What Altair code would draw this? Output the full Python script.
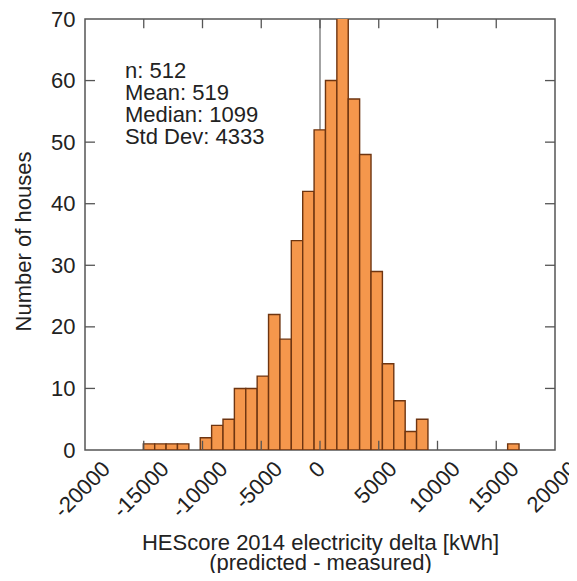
import altair as alt
import pandas as pd

# Histogram data
BIN_START = -15038
BIN_WIDTH = 969
COUNTS = [1, 1, 1, 1, 0, 2, 4, 5, 10, 10, 12, 22, 18, 34, 42, 52, 60, 72, 57,
          48, 29, 14, 8, 3, 5, 0, 0, 0, 0, 0, 0, 0, 1]
X_TICKS = [-20000, -15000, -10000, -5000, 0, 5000, 10000, 15000, 20000]
Y_TICKS = [0, 10, 20, 30, 40, 50, 60, 70]
STATS = ["n: 512", "Mean: 519", "Median: 1099", "Std Dev: 4333"]

FONT = "Liberation Sans"
FILL = "#F5974C"
EDGE = "#6E3511"
FRAME = "#555555"
TXT = "#222222"

rows = []
for i, c in enumerate(COUNTS):
    if c > 0:
        lo = BIN_START + i * BIN_WIDTH
        rows.append({"lo": lo, "hi": lo + BIN_WIDTH, "count": c})
bars_df = pd.DataFrame(rows)

xscale = alt.Scale(domain=[X_TICKS[0], X_TICKS[-1]], nice=False, zero=False)
yscale = alt.Scale(domain=[Y_TICKS[0], Y_TICKS[-1]], nice=False, zero=False)

# rotated labels are centred on their tick (shift depends on label length)
label_offset = {
    "condition": [
        {"test": "datum.value < -5000", "value": 21},
        {"test": "datum.value == -5000", "value": 17},
        {"test": "datum.value == 0", "value": 1},
        {"test": "datum.value == 5000", "value": 14},
    ],
    "value": 18.5,
}

xaxis = alt.Axis(
    values=X_TICKS,
    labelExpr="datum.value < 0 ? '-' + format(-datum.value, 'd') : format(datum.value, 'd')",
    labelAngle=315, labelAlign="right", labelBaseline="middle",
    labelPadding=15, labelOffset=label_offset, tickSize=0,
    domain=False, grid=False, labelFont=FONT, labelFontSize=22,
    labelColor=TXT, labelOverlap=False, labelBound=False, labelFlush=False,
    title=["HEScore 2014 electricity delta [kWh]", "(predicted - measured)"],
    titleFont=FONT, titleFontSize=22, titleFontWeight="normal",
    titleColor=TXT, titleX=235, titleY=99, titleBaseline="alphabetic",
    titleLineHeight=20, titleAnchor="middle", titleAlign="center",
)
yaxis = alt.Axis(
    values=Y_TICKS, tickSize=0, domain=False, grid=False, labelPadding=10,
    labelFont=FONT, labelFontSize=22, labelColor=TXT,
    labelOverlap=False, labelFlush=False,
    title="Number of houses", titleFont=FONT, titleFontSize=22,
    titleFontWeight="normal", titleColor=TXT, titleX=-62, titleY=222,
    titleBaseline="middle", titleAlign="center",
)

zero_line = alt.Chart(pd.DataFrame({"v": [0]})).mark_rule(
    color="#8c8c8c", strokeWidth=1.6
).encode(
    x=alt.X("v:Q", scale=xscale, axis=xaxis),
)

bars = alt.Chart(bars_df).mark_rect(
    fill=FILL, stroke=EDGE, strokeWidth=1.4, clip=True
).encode(
    x=alt.X("lo:Q", scale=xscale, axis=xaxis),
    x2="hi:Q",
    y=alt.Y("count:Q", scale=yscale, axis=yaxis),
    y2=alt.datum(0),
)

inner_x = pd.DataFrame({"v": X_TICKS[1:-1]})
inner_y = pd.DataFrame({"v": Y_TICKS[1:-1]})
tick_style = dict(color=FRAME, strokeWidth=1.3)

ticks_bottom = alt.Chart(inner_x).mark_rule(**tick_style).encode(
    x=alt.X("v:Q", scale=xscale), y=alt.datum(0), y2=alt.datum(1.5))
ticks_top = alt.Chart(inner_x).mark_rule(**tick_style).encode(
    x=alt.X("v:Q", scale=xscale), y=alt.datum(70), y2=alt.datum(68.5))
ticks_left = alt.Chart(inner_y).mark_rule(**tick_style).encode(
    y=alt.Y("v:Q", scale=yscale), x=alt.datum(-20000), x2=alt.datum(-19150))
ticks_right = alt.Chart(inner_y).mark_rule(**tick_style).encode(
    y=alt.Y("v:Q", scale=yscale), x=alt.datum(20000), x2=alt.datum(19150))

stats = alt.Chart(pd.DataFrame({"t": ["\n".join(STATS)]})).mark_text(
    lineBreak="\n", align="left", baseline="alphabetic", font=FONT,
    fontSize=22, lineHeight=22, color=TXT
).encode(
    x=alt.datum(-16600), y=alt.datum(60.4), text="t:N"
)

chart = alt.layer(
    zero_line, bars, ticks_bottom, ticks_top, ticks_left, ticks_right, stats
).properties(
    width=470, height=431,
    autosize=alt.AutoSizeParams(type="none"),
    padding={"left": 77, "top": 11, "right": 14, "bottom": 123},
    background="white",
).configure_view(
    stroke=FRAME, strokeWidth=1.5
)

chart.save("out.html", embed_options={"renderer": "svg", "actions": False})
